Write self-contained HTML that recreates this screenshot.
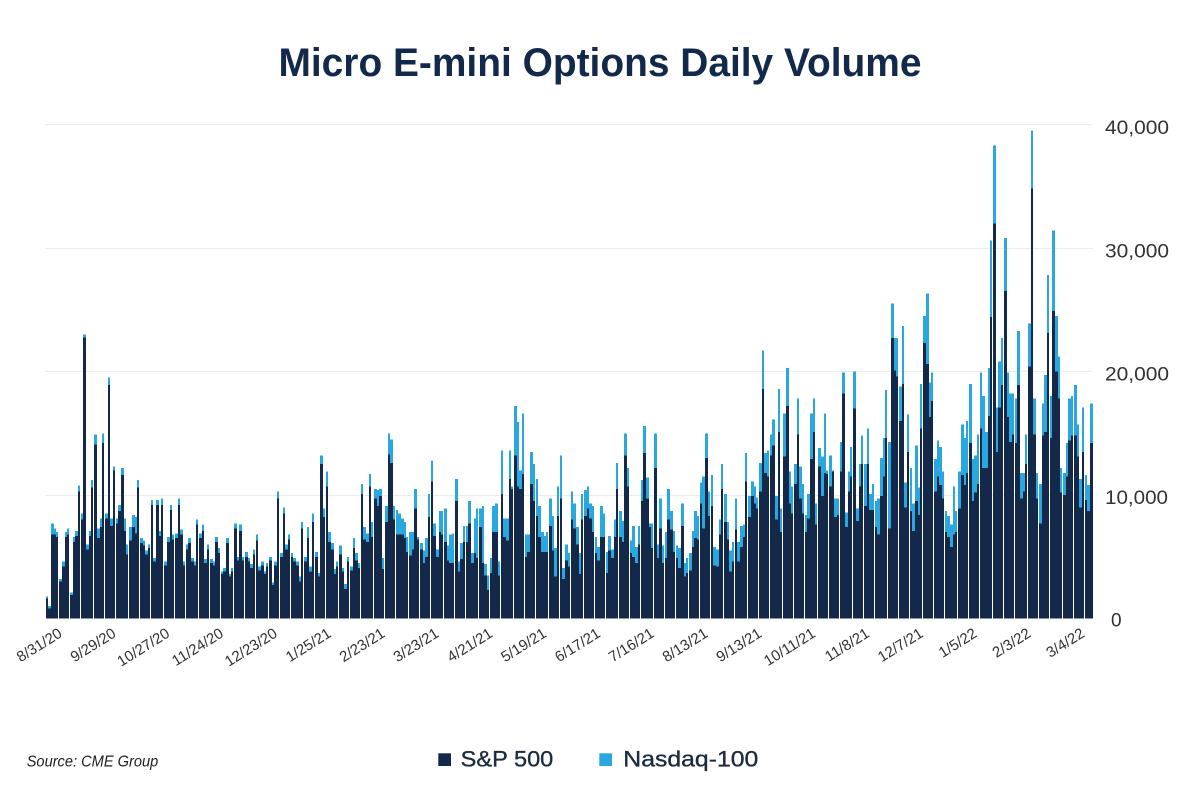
<!DOCTYPE html>
<html>
<head>
<meta charset="utf-8">
<style>
html,body{margin:0;padding:0;background:#fff;width:1200px;height:800px;overflow:hidden}
svg{display:block}
text{font-family:"Liberation Sans",sans-serif}
</style>
</head>
<body>
<svg id="chart" width="1200" height="800" viewBox="0 0 1200 800" xmlns="http://www.w3.org/2000/svg">
<rect width="1200" height="800" fill="#fff"/>
<text x="600" y="76" text-anchor="middle" font-size="40" font-weight="bold" textLength="643" lengthAdjust="spacingAndGlyphs" fill="#13294b">Micro E-mini Options Daily Volume</text>
<g stroke="#ececec" stroke-width="1">
<line x1="45" y1="124.5" x2="1093" y2="124.5"/>
<line x1="45" y1="248.5" x2="1093" y2="248.5"/>
<line x1="45" y1="371.5" x2="1093" y2="371.5"/>
<line x1="45" y1="495.5" x2="1093" y2="495.5"/>
</g>
<g id="bars" shape-rendering="crispEdges"></g>
<g fill="#333" font-size="19">
<text x="1105" y="134" textLength="64" lengthAdjust="spacingAndGlyphs">40,000</text>
<text x="1105" y="257.5" textLength="64" lengthAdjust="spacingAndGlyphs">30,000</text>
<text x="1105" y="380.5" textLength="64" lengthAdjust="spacingAndGlyphs">20,000</text>
<text x="1105" y="504" textLength="63" lengthAdjust="spacingAndGlyphs">10,000</text>
<text x="1111" y="626.5">0</text>
</g>
<g fill="#333" font-size="15" text-anchor="end">
<text x="63.1" y="636" transform="rotate(-32 63.1 636)">8/31/20</text>
<text x="116.9" y="636" transform="rotate(-32 116.9 636)">9/29/20</text>
<text x="170.7" y="636" transform="rotate(-32 170.7 636)">10/27/20</text>
<text x="224.5" y="636" transform="rotate(-32 224.5 636)">11/24/20</text>
<text x="278.3" y="636" transform="rotate(-32 278.3 636)">12/23/20</text>
<text x="332.2" y="636" transform="rotate(-32 332.2 636)">1/25/21</text>
<text x="386.0" y="636" transform="rotate(-32 386.0 636)">2/23/21</text>
<text x="439.8" y="636" transform="rotate(-32 439.8 636)">3/23/21</text>
<text x="493.6" y="636" transform="rotate(-32 493.6 636)">4/21/21</text>
<text x="547.4" y="636" transform="rotate(-32 547.4 636)">5/19/21</text>
<text x="601.3" y="636" transform="rotate(-32 601.3 636)">6/17/21</text>
<text x="655.1" y="636" transform="rotate(-32 655.1 636)">7/16/21</text>
<text x="708.9" y="636" transform="rotate(-32 708.9 636)">8/13/21</text>
<text x="762.7" y="636" transform="rotate(-32 762.7 636)">9/13/21</text>
<text x="816.5" y="636" transform="rotate(-32 816.5 636)">10/11/21</text>
<text x="870.4" y="636" transform="rotate(-32 870.4 636)">11/8/21</text>
<text x="924.2" y="636" transform="rotate(-32 924.2 636)">12/7/21</text>
<text x="978.0" y="636" transform="rotate(-32 978.0 636)">1/5/22</text>
<text x="1031.8" y="636" transform="rotate(-32 1031.8 636)">2/3/22</text>
<text x="1085.6" y="636" transform="rotate(-32 1085.6 636)">3/4/22</text>
</g>
<text x="26.7" y="766.5" font-size="15.5" font-style="italic" fill="#222" textLength="131.6" lengthAdjust="spacingAndGlyphs">Source: CME Group</text>
<rect x="438.3" y="753.3" width="12.7" height="12.7" fill="#14294a"/>
<text x="460.7" y="766.7" font-size="22" fill="#1c2b3e" stroke="#1c2b3e" stroke-width="0.35" textLength="92.6" lengthAdjust="spacingAndGlyphs">S&amp;P 500</text>
<rect x="599.3" y="753.3" width="12.7" height="12.7" fill="#2aa7df"/>
<text x="623.3" y="766.7" font-size="22" fill="#1c2b3e" stroke="#1c2b3e" stroke-width="0.35" textLength="135" lengthAdjust="spacingAndGlyphs">Nasdaq-100</text>
</svg>
<script>
(function(){
var D=[[1.8,1.6],[1.0,0.8],[7.7,6.8],[7.3,6.8],[7.0,6.6],[3.2,3.0],[4.6,4.2],[7.0,6.6],[7.3,6.8],[2.1,1.9],[6.6,6.2],[7.1,6.7],[10.75,10.3],[8.5,8.0],[23.0,22.75],[6.0,5.6],[7.1,6.7],[11.2,10.6],[14.9,14.1],[7.3,6.5],[8.1,7.4],[15.0,14.2],[8.5,8.1],[19.5,18.9],[8.1,7.5],[12.3,12.0],[8.1,7.7],[9.2,8.7],[12.2,11.6],[8.1,7.1],[6.0,5.2],[7.4,6.3],[8.4,7.4],[8.2,6.9],[11.2,10.6],[6.5,6.1],[6.3,5.9],[5.5,5.2],[6.0,5.7],[9.6,9.2],[4.9,4.6],[9.6,9.2],[7.1,6.7],[9.7,9.2],[4.6,4.3],[6.6,6.2],[9.2,8.8],[6.8,6.4],[6.9,6.5],[9.7,9.2],[7.2,6.8],[4.6,4.3],[6.0,5.6],[6.5,6.1],[4.9,4.6],[4.6,4.3],[8.0,7.6],[6.9,6.5],[7.6,7.1],[4.8,4.5],[6.0,5.6],[4.8,4.5],[4.6,4.3],[6.6,6.2],[5.7,5.3],[3.8,3.6],[4.1,3.8],[6.5,6.1],[3.6,3.4],[4.1,3.8],[7.7,7.3],[5.0,4.7],[7.6,7.1],[5.0,4.7],[5.4,5.0],[4.9,4.6],[4.4,4.1],[5.6,5.2],[6.8,6.3],[4.2,3.9],[4.6,4.3],[3.8,3.6],[4.5,4.2],[5.0,4.7],[2.9,2.7],[4.6,4.3],[10.3,9.7],[5.3,5.0],[9.0,8.5],[6.0,5.6],[6.8,6.4],[5.3,5.0],[4.9,4.6],[4.6,4.3],
[3.4,3.0],[7.8,7.3],[5.0,4.6],[7.4,6.5],[4.2,3.8],[8.5,7.8],[5.4,5.0],[3.7,3.4],[13.2,12.5],[8.9,8.2],[11.9,10.7],[7.0,6.2],[6.1,5.6],[4.0,3.6],[4.6,4.2],[5.9,5.2],[4.1,3.8],[2.8,2.4],[5.0,4.6],[4.2,3.9],[6.5,5.7],[5.3,4.7],[4.5,4.1],[10.9,10.1],[7.4,6.4],[6.9,6.2],[11.7,10.7],[7.8,6.6],[10.5,9.7],[10.4,9.1],[10.5,9.9],[4.9,4.0],[9.1,7.8],[15.0,13.3],[14.5,12.6],[9.1,8.0],[8.8,6.8],[8.5,6.8],[8.1,6.8],[7.8,6.5],[6.6,5.4],[7.0,5.1],[7.0,5.6],[10.5,8.9],[6.6,6.4],[6.1,5.6],[5.5,4.5],[6.5,5.0],[10.1,8.2],[12.8,11.1],[7.7,6.7],[5.6,5.0],[8.7,7.0],[8.7,6.8],[8.9,6.2],[5.9,4.7],[6.8,4.5],[6.9,4.5],[11.3,9.5],[4.6,3.8],[6.1,4.8],[7.5,6.2],[7.5,6.2],[9.5,7.7],[5.3,4.5],[8.1,5.3],[8.9,4.9],[8.9,7.4],[9.1,4.5],[4.4,3.5],[3.5,2.3],[4.9,3.7],[9.1,7.0],[9.3,7.0],[4.6,3.5],[13.6,10.1],[8.1,6.6],[8.1,6.3],[13.6,11.3],[10.7,10.5],[17.2,13.2],[15.9,10.7],[12.0,10.5],[16.6,11.7],[6.8,5.0],[6.8,5.4],[13.5,10.9],[12.5,9.5],[11.3,8.3],[9.1,6.6],[7.0,5.4],[6.7,5.4],[7.0,5.4],[9.7,7.5],[8.3,5.5],[5.7,3.4],[10.7,8.3],[13.2,9.7],[4.1,3.2],[6.0,4.7],[5.3,4.2],[10.3,8.0],[9.3,7.3],[7.4,6.0],[5.3,3.6],[10.1,8.0],[10.4,8.3],[10.7,8.9],[9.3,8.1],[9.1,7.0],[6.6,5.3],[5.8,4.7],
[9.1,6.6],[8.5,6.6],[5.4,3.7],[6.7,5.5],[5.6,4.9],[8.0,6.6],[12.6,10.5],[8.7,6.6],[7.9,6.2],[15.0,13.2],[12.2,10.7],[6.3,5.3],[7.5,5.0],[5.8,4.5],[7.5,6.0],[11.2,9.5],[15.6,13.4],[11.4,9.7],[7.7,7.4],[7.7,5.7],[15.0,12.2],[6.0,4.9],[9.7,7.3],[5.9,4.5],[7.0,4.9],[10.5,8.0],[8.7,7.2],[7.1,5.4],[5.9,4.9],[5.7,4.1],[9.3,7.5],[4.5,3.4],[4.9,3.7],[5.3,3.9],[7.1,5.8],[8.7,6.5],[8.3,6.4],[11.0,9.3],[11.5,7.3],[15.0,13.0],[10.3,8.3],[11.6,9.1],[5.8,4.3],[5.6,4.2],[8.0,6.8],[12.5,10.5],[10.1,7.8],[7.8,6.4],[5.5,3.8],[6.2,4.6],[9.7,7.2],[6.2,4.6],[7.5,5.8],[7.6,6.6],[13.4,11.1],[9.9,8.2],[11.1,9.9],[10.7,9.3],[9.8,8.9],[12.6,10.3],[21.7,18.6],[13.4,11.8],[13.6,11.5],[14.9,13.2],[16.1,14.0],[9.9,8.0],[18.6,15.1],[8.9,7.0],[16.6,13.1],[20.3,17.2],[11.9,9.3],[10.7,8.5],[12.5,10.9],[17.8,14.9],[12.3,9.7],[10.9,8.5],[8.4,7.0],[10.1,8.1],[16.6,12.9],[17.8,15.1],[9.3,7.6],[13.8,12.3],[13.1,9.9],[16.6,11.8],[12.0,11.7],[13.2,10.7],[12.0,11.9],[9.7,8.2],[9.7,8.4],[14.3,11.9],[19.9,18.2],[8.6,7.4],[11.9,10.3],[13.9,11.5],[20.0,17.0],[8.9,7.9],[12.5,10.7],[14.8,12.5],[12.5,9.1],[15.4,12.5],[10.1,8.8],[10.9,8.8],[9.5,7.4],[9.7,6.8],[13.0,9.9],[14.6,11.5],[18.5,14.6],[14.3,7.3],[25.5,22.7],[22.7,20.1],[22.7,19.6],[18.8,16.0],[23.7,19.0],
[11.0,9.0],[16.5,13.5],[12.2,8.7],[9.3,7.1],[14.0,9.5],[10.6,8.4],[19.0,15.4],[24.5,22.3],[26.3,20.6],[19.1,16.3],[19.9,17.6],[12.9,10.3],[14.4,11.5],[13.9,10.8],[11.9,9.7],[8.7,7.0],[8.3,6.6],[7.6,5.8],[10.7,6.8],[8.7,7.0],[11.9,8.9],[15.7,11.6],[14.6,10.8],[16.0,11.8],[19.0,14.2],[12.9,9.5],[13.2,10.2],[14.9,10.9],[19.9,15.4],[18.0,12.2],[15.1,12.2],[20.3,16.4],[30.6,24.4],[38.3,32.0],[17.1,13.5],[20.8,17.1],[22.7,18.9],[30.8,26.5],[19.9,16.3],[18.2,14.3],[18.2,14.9],[17.8,14.2],[23.3,18.9],[11.8,9.7],[11.8,10.3],[14.9,12.5],[23.9,20.4],[39.5,34.8],[17.8,14.9],[11.8,9.7],[10.9,7.7],[17.4,14.8],[19.7,15.1],[27.8,23.1],[18.0,14.6],[31.4,24.9],[24.5,20.0],[21.2,17.8],[12.2,10.2],[11.8,10.0],[14.2,11.5],[17.8,14.4],[18.0,14.8],[18.9,14.8],[15.7,13.1],[11.3,9.0],[17.1,13.5],[11.6,9.6],[10.8,8.7],[17.4,14.2]];
var NS="http://www.w3.org/2000/svg";
var g=document.getElementById("bars");
var x0=45.7,x1=1092.7,base=618.5,k=12.35;
var p=(x1-x0)/D.length;
var cnt=0;
for(var i=0;i<D.length;i++){
  var t=D[i][0],s=D[i][1];
  var xs=Math.round(x0+i*p), xe=Math.round(x0+(i+1)*p);
  cnt++;
  if(cnt>=4 && xe-xs>=3){ xe-=1; cnt=0; }
  var w=Math.max(2,xe-xs);
  var yt=base-t*k,ys=base-s*k;
  var r1=document.createElementNS(NS,"rect");
  r1.setAttribute("x",xs);r1.setAttribute("y",yt.toFixed(2));
  r1.setAttribute("width",w);r1.setAttribute("height",(ys-yt+0.5).toFixed(2));
  r1.setAttribute("fill","#2aa7df");g.appendChild(r1);
  var r2=document.createElementNS(NS,"rect");
  r2.setAttribute("x",xs);r2.setAttribute("y",ys.toFixed(2));
  r2.setAttribute("width",w);r2.setAttribute("height",(base-ys).toFixed(2));
  r2.setAttribute("fill","#14294a");g.appendChild(r2);
}
})();
</script>
</body>
</html>
